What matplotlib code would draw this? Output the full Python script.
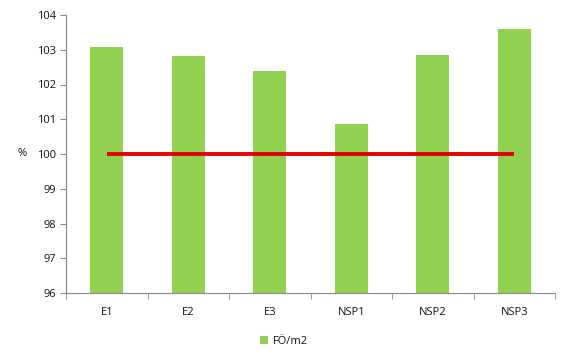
import numpy as np
import matplotlib.pyplot as plt

categories = ["E1", "E2", "E3", "NSP1", "NSP2", "NSP3"]
values = [103.08, 102.82, 102.39, 100.86, 102.85, 103.6]
reference = [100, 100, 100, 100, 100, 100]

plt.rcParams['font.family'] = ['Open Sans', 'DejaVu Sans']

fig = plt.figure(figsize=(5.69, 3.59), dpi=100)
ax = fig.add_axes([66 / 569, 1 - 293 / 359, (555 - 66) / 569, (293 - 15) / 359])

x = np.arange(len(categories))
ax.bar(x, np.array(values) - 96, bottom=96, width=0.4, color="#92d050", label="FÖ/m2")
ax.plot(x, reference, color="#e00000", linewidth=2.8, solid_capstyle="butt")

ax.set_xlim(-0.5, len(categories) - 0.5)
ax.set_ylim(96, 104)
ax.set_yticks(range(96, 105))
ax.set_xticks(x)
ax.set_xticklabels(categories)
ax.set_xticks(np.arange(-0.5, len(categories)), minor=True)

for s in ["top", "right"]:
    ax.spines[s].set_visible(False)
for s in ["left", "bottom"]:
    ax.spines[s].set_color("#888888")

ax.tick_params(axis="y", length=4, color="#888888", labelsize=8, pad=3, labelcolor="#111111")
ax.tick_params(axis="x", which="major", length=0, labelsize=8, pad=10, labelcolor="#111111")
ax.tick_params(axis="x", which="minor", length=4, color="#888888")

ax.set_ylabel("%", rotation=0, fontsize=8, va="center", color="#111111")
ax.yaxis.set_label_coords(-0.09, 0.5)

fig.legend(loc="center", bbox_to_anchor=(284 / 569, 1 - 341 / 359), frameon=False,
           fontsize=8, handlelength=0.7, handleheight=0.7, handletextpad=0.4,
           labelcolor="#111111")

fig.savefig("out.png", dpi=100)
